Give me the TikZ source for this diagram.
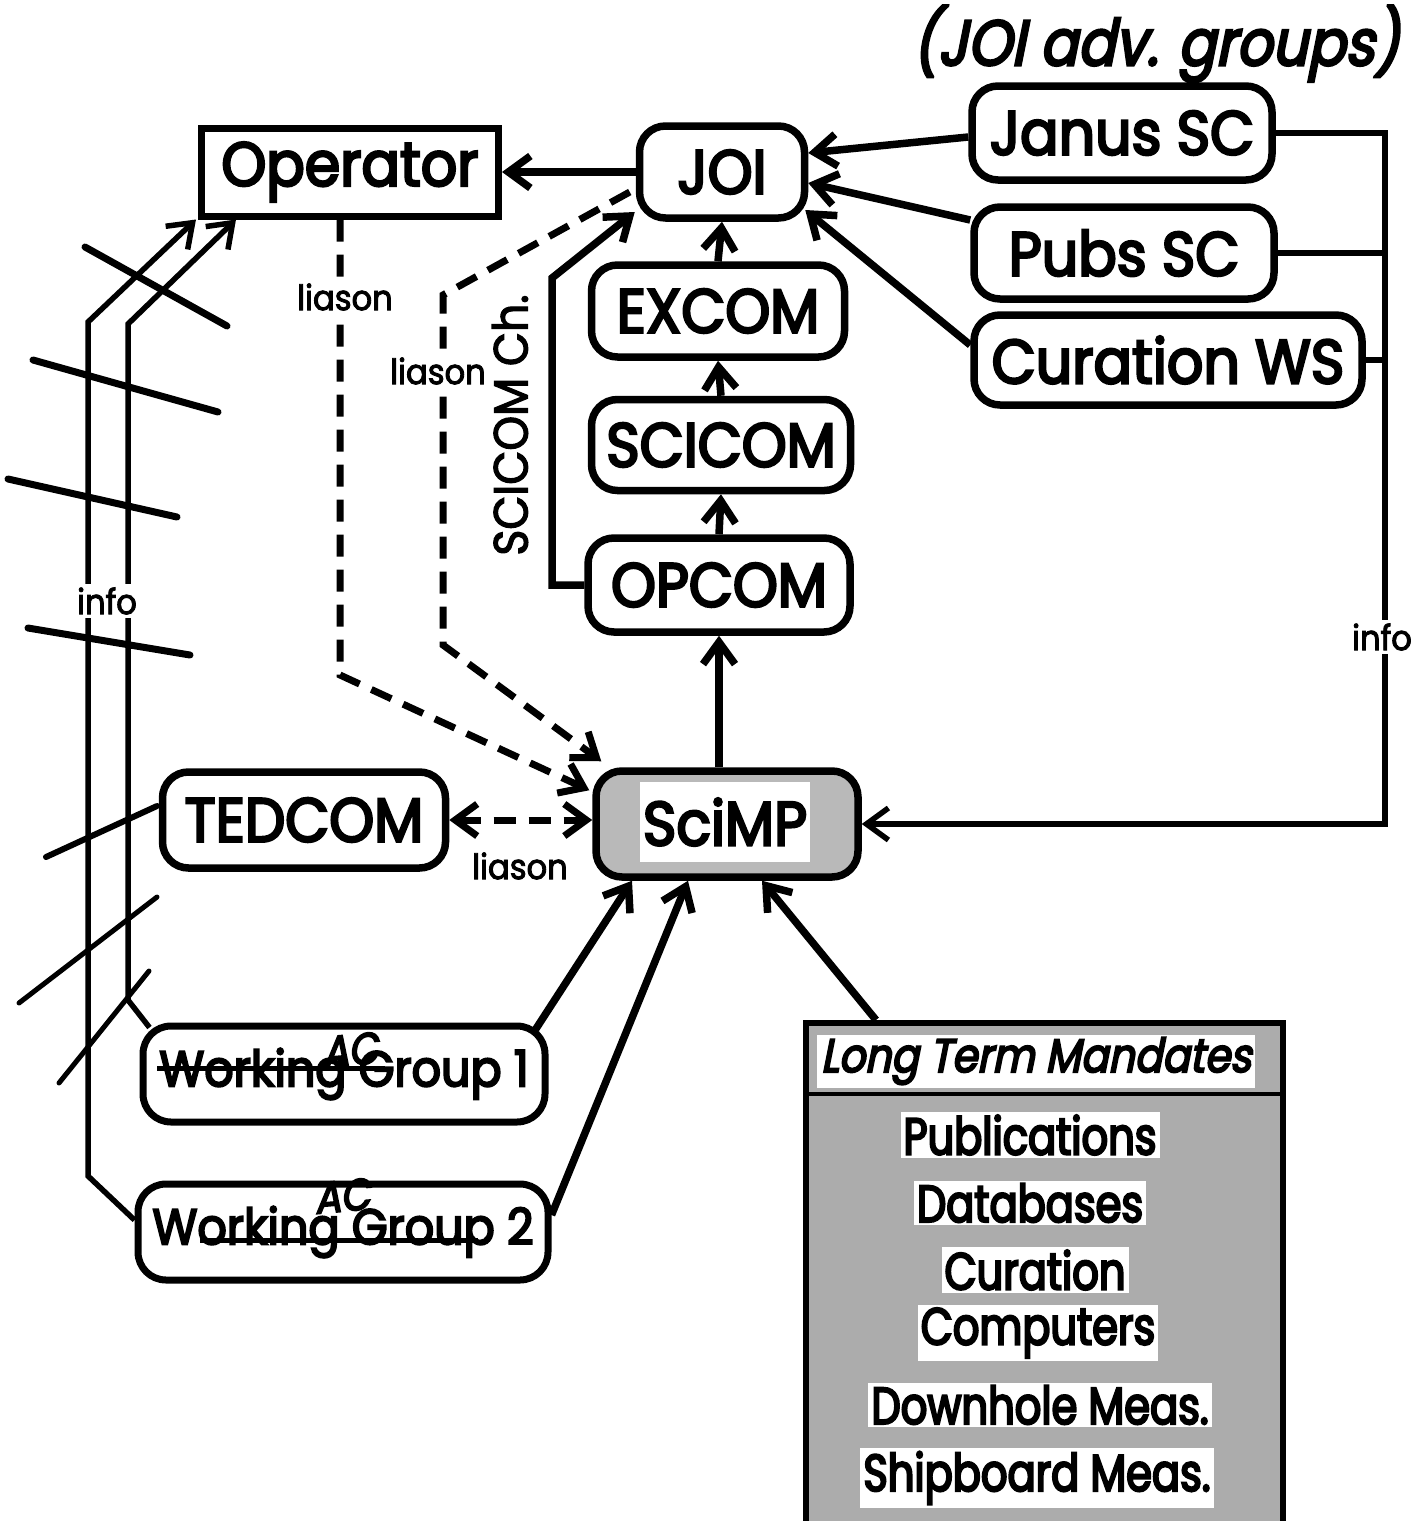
\documentclass[tikz,border=0pt]{standalone}
\usepackage{fontspec}
\setmainfont[FakeStretch=0.92,FakeBold=4]{Poppins}
\newfontfamily\itfont[FakeSlant=0.2,FakeStretch=0.87,FakeBold=4]{Poppins}
\newfontfamily\entfont[FakeStretch=0.8,FakeBold=4]{Poppins}
\newfontfamily\lblfont[FakeStretch=0.92,FakeBold=2.5]{Poppins}
\usetikzlibrary{arrows.meta}
\newcommand\bigfont{\fontsize{62}{62}\selectfont}
\newcommand\midfont{\fontsize{50}{50}\selectfont}
\newcommand\smallfont{\lblfont\fontsize{35}{35}\selectfont}
\begin{document}
\begin{tikzpicture}[x=1pt,y=-1pt,
  box/.style={draw,line width=7.5pt,rounded corners=26pt,inner sep=0pt,font=\bigfont},
  sqbox/.style={draw,line width=7pt,inner sep=0pt,font=\bigfont},
  wgbox/.style={draw,line width=7pt,rounded corners=28pt,inner sep=0pt,font=\midfont},
  arr/.style={-{Straight Barb[length=22pt,width=32pt]}},
  conn/.style={line width=7.5pt},
  thinconn/.style={line width=5.5pt},
  dashconn/.style={line width=7pt,dash pattern=on 22pt off 13pt},
  lbl/.style={font=\smallfont,fill=white,inner sep=3pt},
  entry/.style={fill=white,inner sep=3pt,font=\entfont\fontsize{52}{52}\selectfont},
  hand/.style={line width=7pt,line cap=round}
]
\useasboundingbox (0,0) rectangle (1415,1521);
\fill[white] (0,0) rectangle (1415,1521);

% title
\node[font=\itfont\fontsize{64}{64}\selectfont] (title) at (1156,44) {(JOI adv. groups)};

% nodes
\node[sqbox,minimum width=297pt,minimum height=88pt] (op) at (350,172) {Operator};
\node[box,minimum width=165pt,minimum height=92pt] (joi) at (722,172) {JOI};
\node[box,minimum width=300pt,minimum height=94pt] (janus) at (1122,133) {Janus SC};
\node[box,minimum width=300pt,minimum height=92pt] (pubs) at (1124,253) {Pubs SC};
\node[box,minimum width=388pt,minimum height=90pt] (curws) at (1168,360) {Curation WS};
\node[box,minimum width=253pt,minimum height=92pt] (excom) at (718,311) {EXCOM};
\node[box,minimum width=259pt,minimum height=91pt] (scicom) at (721,445) {SCICOM};
\node[box,minimum width=262pt,minimum height=94pt] (opcom) at (719,585) {OPCOM};
\node[box,fill=gray!55,minimum width=262pt,minimum height=106pt] (scimp) at (727,824) {};
\node[fill=white,minimum width=170pt,minimum height=80pt,inner sep=0pt,font=\bigfont] (scimptxt) at (725,822) {SciMP};
\node[box,minimum width=283pt,minimum height=96pt] (tedcom) at (304,820) {TEDCOM};
\node[wgbox,minimum width=402pt,minimum height=96pt] (wg1) at (344,1074) {Working Group 1};
\node[wgbox,minimum width=410pt,minimum height=96pt] (wg2) at (343,1232) {Working Group 2};

% long term mandates
\node[draw,line width=6pt,fill=gray!65,minimum width=477pt,minimum height=520pt,inner sep=0pt,anchor=north west] (ltm) at (803,1020) {};
\draw[line width=4pt] (ltm.west |- 0,1094) -- (ltm.east |- 0,1094);
\node[fill=white,minimum width=438pt,minimum height=53pt,inner sep=0pt,font=\itfont\fontsize{47}{47}\selectfont] (ltmh) at (1036,1061) {Long Term Mandates};
\node[entry] (e1) at (1030,1135) {Publications};
\node[entry] (e2) at (1030,1203) {Databases};
\node[entry] (e3) at (1035,1270) {Curation};
\node[entry] (e4) at (1038,1333) {Computers};
\node[entry] (e5) at (1040,1405) {Downhole Meas.};
\node[entry] (e6) at (1037,1478) {Shipboard Meas.};

% vertical chain
\draw[conn,arr] (excom.north) -- (joi.south);
\draw[conn,arr] (scicom.north) -- (excom.south);
\draw[conn,arr] (opcom.north) -- (scicom.south);
\draw[conn,arr] (opcom.south |- scimp.north) -- (opcom.south);

% JOI -> Operator
\draw[conn,arr] (joi.west) -- (op.east);

% advisory groups -> JOI
\draw[conn,arr] ([yshift=-4pt]janus.west) -- ([yshift=19pt]joi.east);
\draw[conn,arr] ([yshift=33pt]pubs.west) -- ([yshift=-11pt]joi.east);
\draw[conn,arr] ([yshift=15pt]curws.west) -- ([xshift=-3pt,yshift=-38pt]joi.east);

% SCICOM Ch.
\coordinate (sc1) at (552,585);
\coordinate (sc2) at (552,278);
\draw[conn,arr] (opcom.west) -- (sc1) -- (sc2) -- ([xshift=-1pt,yshift=-40pt]joi.west);
\node[rotate=90,font=\lblfont\fontsize{48}{48}\selectfont] (scich) at (510,425) {SCICOM Ch.};

% liason dashed lines
\coordinate (d1) at (443,295);
\coordinate (d2) at (443,645);
\draw[dashconn,arr] ([xshift=-6pt,yshift=-20pt]joi.west) -- (d1) -- (d2) -- ([xshift=9pt,yshift=6pt]scimp.north west);
\coordinate (d3) at (340,675);
\draw[dashconn,arr] ([xshift=-10pt]op.south) -- (d3) -- ([xshift=-3pt,yshift=-23pt]scimp.north west);
\node[lbl] (l1) at (345,297) {liason};
\node[lbl] (l2) at (438,371) {liason};

% TEDCOM <-> SciMP
\draw[dashconn,{Straight Barb[length=22pt,width=32pt]}-{Straight Barb[length=22pt,width=32pt]}] (tedcom.east) -- (tedcom.east -| scimp.west);
\node[font=\smallfont] (l3) at (520,866) {liason};

% info right
\coordinate (ir) at (1385,824);
\draw[thinconn,arr] (janus.east) -| (ir) -- (scimp.east);
\draw[thinconn] (pubs.east) -- (pubs.east -| ir);
\draw[thinconn] (curws.east) -- (curws.east -| ir);
\node[lbl] (i2) at (1382,637) {info};

% working groups -> SciMP
\draw[conn,arr] ([xshift=-13pt,yshift=-7pt]wg1.north east) -- ([xshift=-95pt]scimp.south);
\draw[conn,arr] ([yshift=17pt]wg2.east) -- ([xshift=-39pt]scimp.south);
\draw[conn,arr] ([xshift=-410pt]ltm.north east) -- ([xshift=35pt]scimp.south);

% info left
\coordinate (a1) at (128,1000);
\coordinate (a2) at (128,324);
\coordinate (b1) at (88,1176);
\coordinate (b2) at (88,322);
\draw[thinconn,arr] ([xshift=10pt,yshift=-5pt]wg1.north west) -- (a1) -- (a2) -- ([xshift=38pt]op.south west);
\draw[thinconn,arr] ([yshift=12pt]wg2.west) -- (b1) -- (b2) -- ([xshift=-2pt]op.south west);
\node[lbl,inner xsep=8pt] (i1) at (107,601) {info};

% handwritten marks
\draw[hand] (85,247) -- (227,326);
\draw[hand] (33,360) -- (218,412);
\draw[hand] (8,479) -- (177,517);
\draw[hand] (28,628) -- (190,655);
\draw[hand,line width=6pt] (157,806) -- (46,857);
\draw[hand,line width=5pt] (157,897) -- (19,1003);
\draw[hand,line width=5pt] (149,971) -- (59,1083);
\draw[line width=5pt] (157,1068) -- (385,1068);
\draw[line width=5pt] (200,1240) -- (478,1240);
\node[font=\itfont\fontsize{44}{44}\selectfont,rotate=5] (ac1) at (350,1050) {AC};
\node[font=\itfont\fontsize{44}{44}\selectfont,rotate=5] (ac2) at (342,1196) {AC};
\end{tikzpicture}
\end{document}
